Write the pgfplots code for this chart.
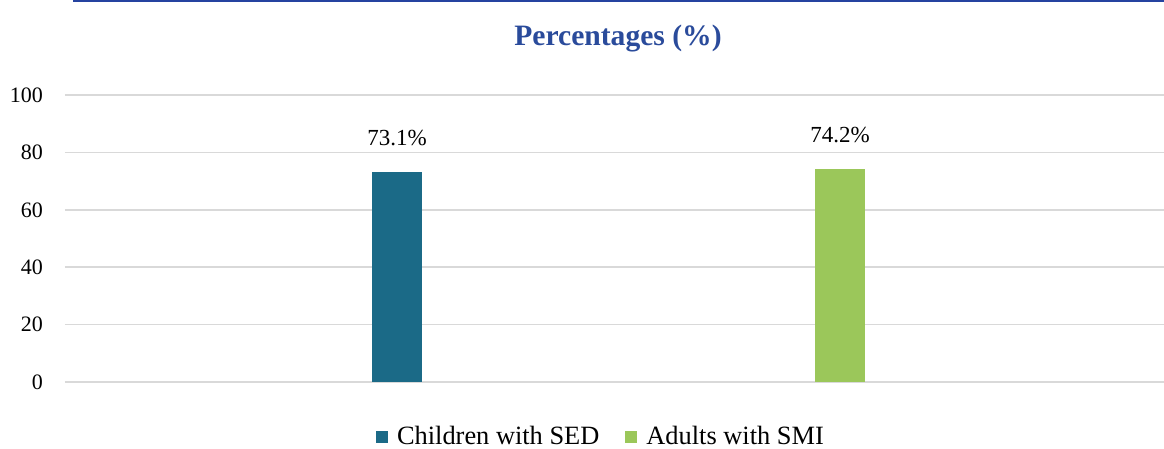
\documentclass[border=0pt]{standalone}
\usepackage{pgfplots}
\pgfplotsset{compat=1.18}
\usepackage{fontspec}
\setmainfont{Liberation Serif}
\definecolor{barA}{HTML}{1B6A87}
\definecolor{barB}{HTML}{9BC75A}
\definecolor{gridc}{HTML}{D9D9D9}
\definecolor{titleblue}{HTML}{2A4B9B}
\definecolor{lineblue}{HTML}{2543A0}
\begin{document}
\begin{tikzpicture}
\path[use as bounding box] (-32.5pt,-33.5pt) rectangle (549.5pt,191pt);
\begin{axis}[
  at={(0,0)}, anchor=south west,
  scale only axis,
  width=549.5pt, height=143.5pt,
  xmin=-0.7494, xmax=1.731,
  ymin=0, ymax=100,
  ytick={0,20,40,60,80,100},
  xtick=\empty,
  axis line style={draw=none},
  major tick length=0pt,
  ymajorgrids,
  grid style={gridc, line width=0.8pt},
  /pgf/number format/assume math mode=true,
  yticklabel style={font=\fontsize{11}{13}\selectfont, anchor=east, xshift=-7.5pt},
  ybar, bar width=25pt, bar shift=0pt,
  nodes near coords={\pgfmathprintnumber[fixed,precision=1,fixed zerofill]{\pgfplotspointmeta}\%},
  nodes near coords style={font=\fontsize{11.5}{13}\selectfont, anchor=south, yshift=9.5pt, text=black},
  legend columns=2,
  legend style={draw=none, at={(0.4886,-0.1916)}, anchor=center,
    font=\fontsize{13.2}{15}\selectfont,
    /tikz/every even column/.append style={column sep=11pt}},
  legend image code/.code={\fill[#1] (0pt,-3pt) rectangle (6pt,3pt); \path (8.5pt,0pt);},
]
\addplot[fill=barA, draw=none] coordinates {(0,73.1)};
\addlegendentry{Children with SED}
\addplot[fill=barB, draw=none] coordinates {(1,74.2)};
\addlegendentry{Adults with SMI}
\end{axis}
\draw[lineblue, line width=1pt] (4pt,190.5pt) -- (549.5pt,190.5pt);
\node[font=\bfseries\fontsize{14.8}{17}\selectfont, text=titleblue] at (276.5pt,171.5pt) {Percentages (\%)};
\end{tikzpicture}
\end{document}
